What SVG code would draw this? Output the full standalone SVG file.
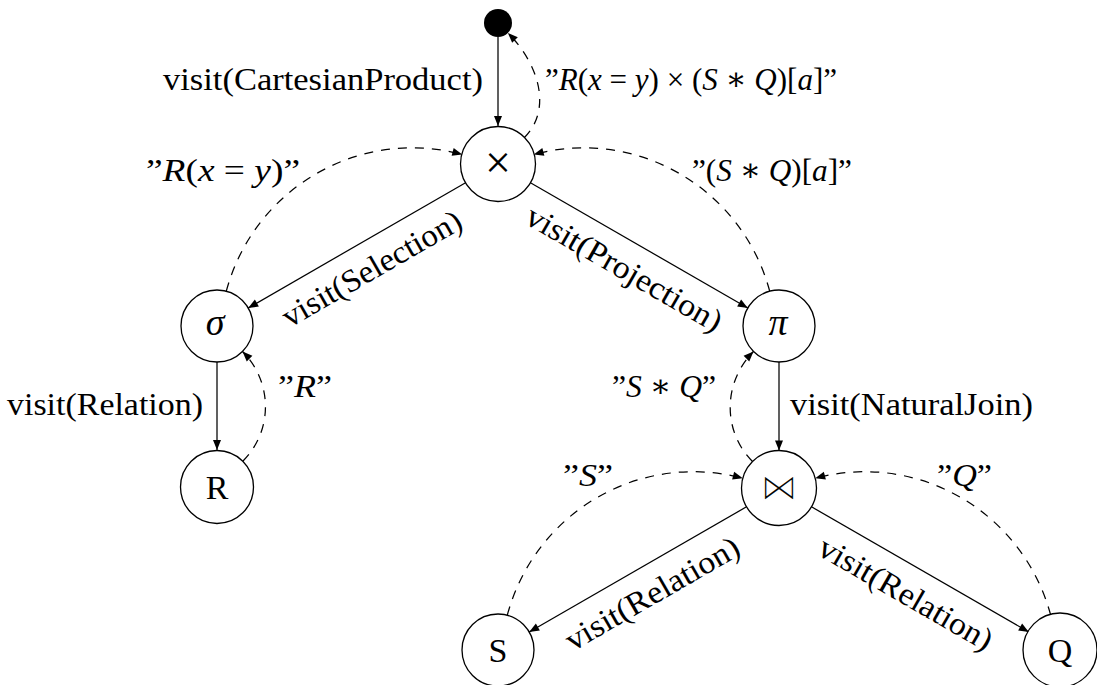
<svg xmlns="http://www.w3.org/2000/svg" width="1097" height="685" viewBox="0 0 1097 685">
<defs>
<style>
.n{fill:#fff;stroke:#000;stroke-width:1.3}
.e{fill:none;stroke:#000;stroke-width:1.25}
.d{fill:none;stroke:#000;stroke-width:1.25;stroke-dasharray:9 8}
text{font-family:"Liberation Serif","DejaVu Serif",serif;font-size:32px;fill:#000}
.i{font-style:italic}
.g{font-size:34px}
.x{font-size:46px}
.gr{font-size:38px;font-style:italic}
.bt{font-family:"DejaVu Serif",serif;font-size:38px;fill:#000;stroke:#fff;stroke-width:1.6;opacity:0.99}
</style>
<marker id="a" markerUnits="userSpaceOnUse" markerWidth="12" markerHeight="10" refX="10" refY="4" orient="auto" overflow="visible">
<path d="M0,0 L10,4 L0,8 Z" fill="#000" stroke="none"/>
</marker>
</defs>
<rect width="1097" height="685" fill="#fff"/>
<g id="connectors">
<path class="e" d="M498,37 L498,126" marker-end="url(#a)"/>
<path class="d" d="M524.2,137.8 C553.6,108.4 537.3,62.3 507.9,32.9" marker-end="url(#a)"/>
<path class="e" d="M466,182.5 L248.2,308" marker-end="url(#a)"/>
<path class="e" d="M530,182.5 L747.8,308" marker-end="url(#a)"/>
<path class="d" d="M226.3,291.2 C253.9,188.2 359.3,126.8 462.3,154.4" marker-end="url(#a)"/>
<path class="d" d="M769.7,291.2 C742.1,188.2 636.7,126.8 533.7,154.4" marker-end="url(#a)"/>
<path class="e" d="M217,362 L217,450" marker-end="url(#a)"/>
<path class="d" d="M242.8,461.2 C273.2,430.8 272.9,381.9 242.5,351.5" marker-end="url(#a)"/>
<path class="e" d="M779,362 L779,450.5" marker-end="url(#a)"/>
<path class="d" d="M752.5,461.5 C722.1,431.1 723.1,381.9 753.5,351.5" marker-end="url(#a)"/>
<path class="e" d="M746.5,506.8 L529.2,632" marker-end="url(#a)"/>
<path class="e" d="M811.5,506.8 L1028.8,632" marker-end="url(#a)"/>
<path class="d" d="M507.3,615.2 C534.9,512.2 639.8,450.7 742.8,478.3" marker-end="url(#a)"/>
<path class="d" d="M1050.7,615.2 C1023.1,512.2 918.2,450.7 815.2,478.3" marker-end="url(#a)"/>
</g>
<g id="edge-labels">
<text x="483" y="90" text-anchor="end" textLength="320" lengthAdjust="spacingAndGlyphs">visit(CartesianProduct)</text>
<text x="545" y="90" textLength="292" lengthAdjust="spacingAndGlyphs">”<tspan class="i">R</tspan>(<tspan class="i">x</tspan> = <tspan class="i">y</tspan>) × (<tspan class="i">S</tspan> ∗ <tspan class="i">Q</tspan>)[<tspan class="i">a</tspan>]”</text>
<text x="146" y="181" textLength="154" lengthAdjust="spacingAndGlyphs">”<tspan class="i">R</tspan>(<tspan class="i">x</tspan> = <tspan class="i">y</tspan>)”</text>
<text x="692" y="181" textLength="160" lengthAdjust="spacingAndGlyphs">”(<tspan class="i">S</tspan> ∗ <tspan class="i">Q</tspan>)[<tspan class="i">a</tspan>]”</text>
<text transform="translate(372,269) rotate(-30)" x="0" y="10" text-anchor="middle" textLength="202" lengthAdjust="spacingAndGlyphs">visit(Selection)</text>
<text transform="translate(624,269) rotate(30)" x="0" y="10" text-anchor="middle" textLength="221" lengthAdjust="spacingAndGlyphs">visit(Projection)</text>
<text x="203" y="415" text-anchor="end" textLength="196" lengthAdjust="spacingAndGlyphs">visit(Relation)</text>
<text x="278" y="397" textLength="54" lengthAdjust="spacingAndGlyphs">”<tspan class="i">R</tspan>”</text>
<text x="790" y="415" textLength="243" lengthAdjust="spacingAndGlyphs">visit(NaturalJoin)</text>
<text x="612" y="397" textLength="104" lengthAdjust="spacingAndGlyphs">”<tspan class="i">S</tspan> ∗ <tspan class="i">Q</tspan>”</text>
<text x="563" y="486" textLength="50" lengthAdjust="spacingAndGlyphs">”<tspan class="i">S</tspan>”</text>
<text x="937" y="486" textLength="55" lengthAdjust="spacingAndGlyphs">”<tspan class="i">Q</tspan>”</text>
<text transform="translate(652.5,594) rotate(-30)" x="0" y="10" text-anchor="middle" textLength="196" lengthAdjust="spacingAndGlyphs">visit(Relation)</text>
<text transform="translate(905.5,594) rotate(30)" x="0" y="10" text-anchor="middle" textLength="196" lengthAdjust="spacingAndGlyphs">visit(Relation)</text>
</g>
<g id="node-start"><circle cx="498" cy="23" r="14" fill="#000"/></g>
<g id="node-product"><circle class="n" cx="498" cy="164" r="37.5"/><text class="x" x="498" y="178" text-anchor="middle">×</text></g>
<g id="node-selection"><circle class="n" cx="217" cy="326" r="36"/><text class="gr" x="215" y="335" text-anchor="middle">σ</text></g>
<g id="node-projection"><circle class="n" cx="779" cy="326" r="36"/><text class="gr" x="778" y="335" text-anchor="middle">π</text></g>
<g id="node-R"><circle class="n" cx="217" cy="487" r="36.5"/><text class="g" x="217" y="499" text-anchor="middle">R</text></g>
<g id="node-join"><circle class="n" cx="779" cy="488" r="37.5"/><text class="bt" x="779" y="500" text-anchor="middle">⋈</text></g>
<g id="node-S"><circle class="n" cx="498" cy="650" r="36"/><text class="g" x="498" y="662" text-anchor="middle">S</text></g>
<g id="node-Q"><circle class="n" cx="1060" cy="650" r="37"/><text class="g" x="1060" y="662" text-anchor="middle">Q</text></g>
</svg>
